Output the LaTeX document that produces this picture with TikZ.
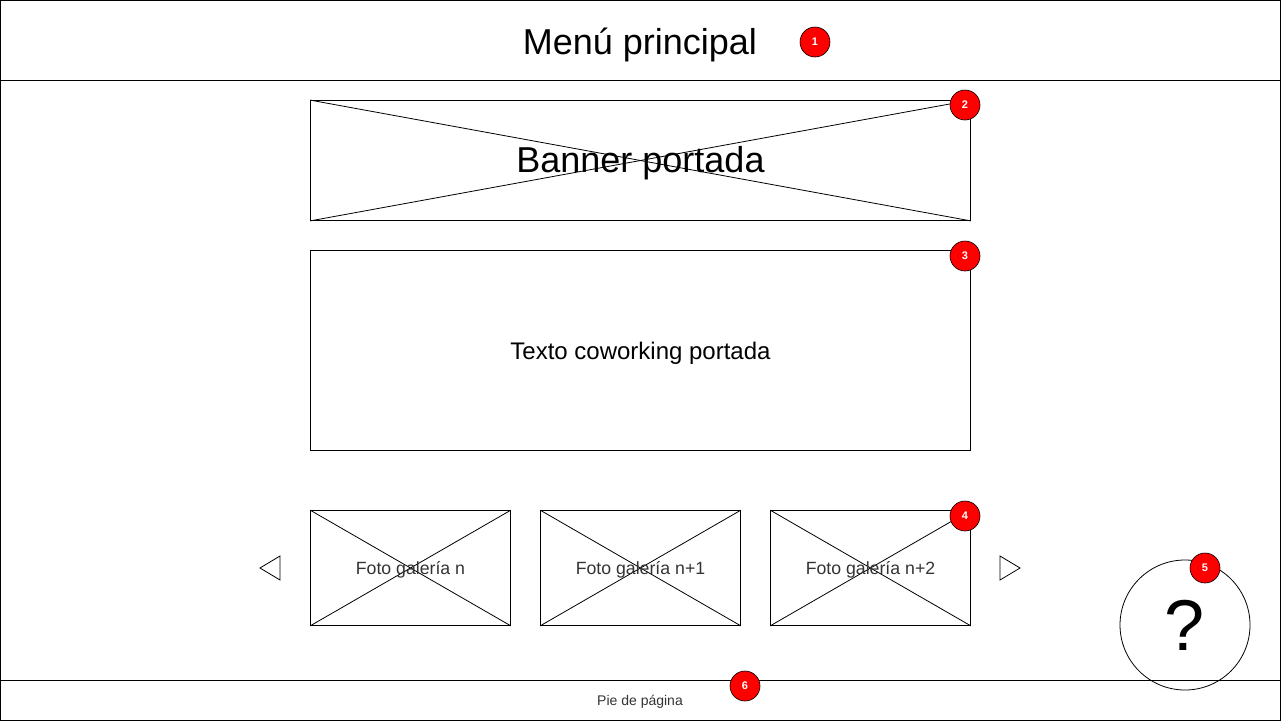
\documentclass[tikz,border=0pt]{standalone}
\usepackage{fontspec}
\setmainfont{Liberation Sans}
\definecolor{badgered}{RGB}{255,0,0}
\definecolor{txtgray}{RGB}{51,51,51}
\tikzset{
  x=1pt, y=-1pt,
  frame/.style={draw=black, line width=1pt},
  imgbox/.style={draw=black, line width=0.8pt, rectangle, inner sep=0pt},
  badge/.style={circle, draw=black, line width=0.6pt, fill=badgered, minimum size=30pt, inner sep=0pt, text=white, font=\fontsize{11}{12}\selectfont\bfseries},
  arrowtri/.style={draw=black, line width=0.8pt},
}
\begin{document}
\begin{tikzpicture}
\useasboundingbox (0,0) rectangle (1281,721);
% frame
\draw[frame] (0.5,0.5) rectangle (1280.5,720.5);
\draw[frame] (0,80.5) -- (1281,80.5);
\draw[frame] (0,680.5) -- (1281,680.5);
\node (title) at (640,45) {\fontsize{36}{40}\selectfont Menú principal};
% banner
\node[imgbox, minimum width=660pt, minimum height=120pt] (banner) at (640.5,160.5) {};
\draw[line width=0.8pt] (banner.north west) -- (banner.south east);
\draw[line width=0.8pt] (banner.south west) -- (banner.north east);
\node at ([yshift=-3pt]banner.center) {\fontsize{36}{40}\selectfont Banner portada};
% text box
\node[imgbox, minimum width=660pt, minimum height=200pt] (texto) at (640.5,350.5) {};
\node[font=\fontsize{24}{28}\selectfont] at ([yshift=-3pt]texto.center) {Texto coworking portada};
% photos
\foreach \n/\cx/\lab in {fa/410.5/{Foto galería n}, fb/640.5/{Foto galería n+1}, fc/870.5/{Foto galería n+2}} {
  \node[imgbox, minimum width=200pt, minimum height=115pt] (\n) at (\cx,568) {};
  \draw[line width=0.8pt] (\n.north west) -- (\n.south east);
  \draw[line width=0.8pt] (\n.south west) -- (\n.north east);
  \node[text=txtgray, font=\fontsize{17.7}{20}\selectfont] at ([yshift=-2pt]\n.center) {\lab};
}
% arrows
\coordinate (la1) at (260,568); \coordinate (la2) at (280,556); \coordinate (la3) at (280,580);
\draw[arrowtri] (la1) -- (la2) -- (la3) -- cycle;
\coordinate (ra1) at (1020,568); \coordinate (ra2) at (1000,556); \coordinate (ra3) at (1000,580);
\draw[arrowtri] (ra1) -- (ra2) -- (ra3) -- cycle;
% help circle
\node[circle, draw=black, line width=0.8pt, minimum size=130pt, inner sep=0pt, font=\fontsize{72}{80}\selectfont] (help) at (1185,625) {?};
% footer
\node[font=\fontsize{14}{16}\selectfont, text=txtgray] (footer) at (640,702) {Pie de página};
% badges
\node[badge] (b1) at (815,42) {1};
\node[badge] (b2) at (965,105) {2};
\node[badge] (b3) at (965,256) {3};
\node[badge] (b4) at (965,516) {4};
\node[badge] (b5) at (1205,568) {5};
\node[badge] (b6) at (745,686) {6};
\end{tikzpicture}
\end{document}
